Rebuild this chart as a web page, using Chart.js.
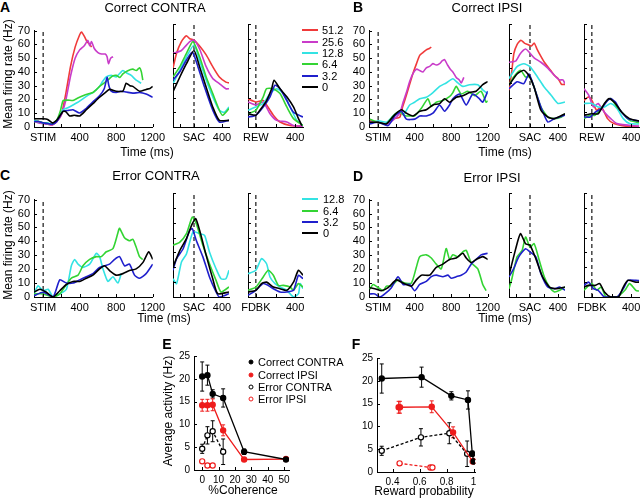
<!DOCTYPE html>
<html>
<head>
<meta charset="utf-8">
<script src="https://cdn.jsdelivr.net/npm/chart.js@4.4.1/dist/chart.umd.min.js"></script>
<style>
  body { margin: 0; background: #fff; width: 640px; height: 498px; position: relative; overflow: hidden;
         font-family: "Liberation Sans", Arial, sans-serif; color: #000; }
  canvas { position: absolute; }
  .t { position: absolute; white-space: nowrap; line-height: 1; transform: translate(-50%, -50%); }
  .l { position: absolute; white-space: nowrap; line-height: 1; transform: translateY(-50%); font-size: 11px; }
  .sw { position: absolute; height: 0; border-top: 2px solid; width: 16px; }
  .dot { position: absolute; width: 5px; height: 5px; border-radius: 50%; box-sizing: border-box; transform: translate(-50%, -50%); }
</style>
</head>
<body>
<script>
// ---- data: time courses, [ms, Hz] pairs ----
const cohLabels = ["51.2", "25.6", "12.8", "6.4", "3.2", "0"];
const traceColors = ["#f03a3a", "#c93cc9", "#33e3e3", "#33d433", "#1f1fcc", "#000000"];

// A  Correct CONTRA
const aStim51 = [[-100,5],[-50,4],[0,3],[50,2],[100,1.5],[150,4],[200,9],[250,25],[300,44],[350,58],[400,67],[420,69],[450,66],[480,62],[510,60],[530,58]];
const aStim25 = [[-100,4],[-50,3],[0,2.5],[50,2],[100,1.5],[150,4],[200,9],[250,20],[300,37],[350,50],[400,56],[450,59],[490,63],[510,59],[530,62],[560,57],[600,54],[640,53],[680,53],[700,51],[715,46],[740,50],[765,51]];
const aStim12 = [[-100,5],[-50,4],[0,3],[50,3],[100,2],[150,5],[218,12.5],[270,14],[327,16],[380,18],[436,20.5],[490,23],[545,25],[580,27],[618,29.5],[650,33],[691,36.4],[745,37.5],[800,36.4],[840,39],[873,41],[920,39],[964,37.5],[1018,34],[1073,31.8]];
const aStim6 = [[-100,4],[-50,4],[0,3],[50,2.5],[100,2],[150,5],[190,12],[218,19],[270,19.5],[327,19.3],[380,21],[436,22.7],[490,24],[545,25],[580,27],[618,29.5],[670,32],[727,35.2],[760,37],[800,37.5],[840,36],[873,38.6],[927,40.9],[982,42],[1020,41],[1055,43],[1075,40],[1091,34]];
const aStim3 = [[-100,4],[-50,4],[0,3],[50,2.5],[100,2],[150,4],[218,11.4],[270,12],[327,12.5],[400,10.2],[473,13.6],[545,18.2],[618,22.7],[670,28],[700,36],[720,30],[745,26],[800,25],[850,26],[909,25.4],[982,24.6],[1055,25],[1127,23.9],[1200,21.6]];
const aStim0 = [[-100,6],[-50,6],[0,6],[50,5.5],[100,3],[150,5],[218,11.4],[250,11],[291,8],[340,8.5],[400,8],[473,12.5],[545,17],[618,21.6],[680,25],[727,27.3],[800,26],[873,26],[909,31.8],[950,30],[982,29.5],[1055,26],[1127,27.3],[1170,28],[1200,29.5]];

const aSac51 = [[-300,40],[-250,50],[-180,58],[-110,62],[-60,60],[0,59],[80,55],[174,49],[268,41],[362,34],[456,30.5],[500,30]];
const aSac25 = [[-300,50],[-180,52],[-61,58],[0,59],[80,53],[174,41],[268,33],[362,29.5],[456,26],[500,26]];
const aSac12 = [[-300,29.5],[-202,38.6],[-108,47.7],[0,55.7],[80,45],[174,32],[268,20.5],[362,11.4],[433,10],[500,13.6]];
const aSac6 = [[-300,34],[-202,41],[-108,50],[-14,58],[80,47.7],[174,34],[268,22.7],[362,11.4],[409,8],[500,12.5]];
const aSac3 = [[-300,32],[-202,37.5],[-108,45.5],[-24,51],[56,41],[151,27],[268,11.4],[362,3.4],[500,4.5]];
const aSac0 = [[-300,24],[-202,34],[-108,43],[0,52],[80,41],[174,27],[268,13.6],[362,4.5],[500,4.5]];

const aRew51 = [[-80,19],[0,17],[75,18],[109,15],[178,8],[246,3.4],[349,1],[480,0.5]];
const aRew25 = [[-80,17],[0,15],[75,17],[144,9],[212,4.5],[315,3.4],[383,1],[480,0.5]];
const aRew12 = [[-80,11.4],[0,13.6],[75,16],[144,22.7],[212,26],[280,22.7],[349,13.6],[417,4.5],[480,1]];
const aRew6 = [[-80,9],[0,11.4],[75,20.5],[109,26],[178,26],[246,22.7],[315,13.6],[383,5.7],[480,1]];
const aRew3 = [[-80,6.8],[0,8],[75,13.6],[144,20.5],[195,28.4],[246,26],[315,18],[383,10],[480,6.8]];
const aRew0 = [[-80,9],[0,8],[41,11.4],[109,18],[161,26],[185,31.8],[246,26],[315,20.5],[383,13.6],[434,5.7],[468,1]];

// B  Correct IPSI
const bStim51 = [[-91,4.5],[0,3.4],[91,2.3],[164,6],[236,7],[270,15],[309,23],[345,31],[382,39],[420,46],[455,52],[490,54],[527,56],[560,57],[582,58]];
const bStim25 = [[-91,3.4],[0,3.4],[91,2],[164,5],[236,10],[273,18],[309,25],[345,33],[382,39],[420,42],[455,41],[491,40],[527,43],[564,44],[600,46],[636,45],[673,46],[700,48],[727,49],[760,45],[790,42],[818,40],[855,36],[890,34],[910,32],[938,36]];
const bStim12 = [[-91,2.3],[0,4.5],[91,3.4],[164,8],[236,11.4],[273,9],[309,12],[345,16],[400,18],[455,20.5],[527,21.6],[600,25],[673,29.5],[745,32],[818,35],[873,32],[927,29.5],[1000,30.7],[1091,30.7],[1145,27],[1200,24]];
const bStim6 = [[-91,5.7],[0,3.4],[91,2.3],[164,8],[236,11.4],[273,9],[309,8],[364,8],[400,8],[473,13.6],[545,20.5],[582,15],[636,18],[709,19.3],[780,22],[818,25],[855,29.5],[909,24],[982,26],[1055,22.7],[1127,26],[1182,18],[1200,19]];
const bStim3 = [[-91,2.3],[0,3.4],[109,1],[182,8],[255,11.4],[309,5.7],[400,5.7],[455,8],[527,8],[600,10],[673,16],[727,11.4],[782,16],[818,20.5],[891,24],[964,16],[1036,24],[1109,20.5],[1145,18],[1200,26]];
const bStim0 = [[-91,3.4],[0,3.4],[91,2.3],[182,9],[255,12.5],[309,10],[382,8],[455,11.4],[527,12.5],[600,16],[673,17],[727,20.5],[782,18],[855,21.6],[927,22.7],[1000,25],[1073,26],[1145,30.7],[1200,33]];

const bSac51 = [[-300,25],[-260,38],[-230,50],[-185,56],[-130,59],[-80,57],[-30,56],[20,55],[60,57],[100,53],[156,48],[205,44],[254,41],[302,38],[350,35],[400,33],[450,29],[500,29]];
const bSac25 = [[-300,44],[-200,45],[-137,50],[-63,53],[-15,51],[59,47],[156,44],[254,40],[351,35],[420,32],[470,32],[500,29.5]];
const bSac12 = [[-300,33],[-185,41],[-88,43],[0,41],[107,34],[205,27],[302,21.6],[400,16],[500,17]];
const bSac6 = [[-300,28.4],[-234,34],[-137,38.6],[-63,34],[0,34],[59,27],[156,13.6],[254,6.8],[351,5.7],[449,6.8],[500,9]];
const bSac3 = [[-300,26],[-185,30.7],[-88,29.5],[-15,36],[59,27],[156,13.6],[254,3.4],[351,5.7],[500,8]];
const bSac0 = [[-300,28.4],[-185,36],[-88,38.6],[-15,35],[59,27],[156,11.4],[254,6.8],[351,5.7],[500,9]];

const bRew51 = [[-80,18],[-32,20.5],[0,18],[48,11.4],[96,13.6],[160,5.7],[224,2.3],[352,0.5],[480,0.5]];
const bRew25 = [[-80,26],[-32,21.6],[16,13.6],[64,16],[128,10],[192,5.7],[256,2.3],[480,0.5]];
const bRew12 = [[-80,16],[0,16],[64,13.6],[128,13.6],[192,16],[256,12.5],[320,5.7],[384,2.3],[480,2]];
const bRew6 = [[-80,5.7],[-16,8],[32,8],[80,11.4],[144,17],[192,19.3],[256,13.6],[320,9],[384,4.5],[480,3]];
const bRew3 = [[-80,6.8],[-16,6.8],[32,10],[96,12.5],[160,18],[192,19.3],[240,17],[288,11.4],[368,5.7],[480,4]];
const bRew0 = [[-80,8],[0,9],[64,9],[128,16],[176,19.3],[240,16],[304,10],[384,5.7],[480,4]];

// C  Error CONTRA
const cStim12 = [[-100,2.2],[-55,8],[0,4.5],[55,5.6],[109,0],[182,2.2],[255,5.6],[309,22.4],[345,27],[382,23.6],[436,21.3],[509,23.6],[582,31.4],[618,29],[655,20.2],[709,11.2],[764,14.6],[818,10],[855,16.8]];
const cStim6 = [[-100,2.2],[0,2.2],[109,0],[182,2.2],[255,9],[309,13.5],[382,15.7],[436,22.4],[509,27],[582,29],[636,29],[691,32.5],[764,34.8],[818,46],[836,49.4],[891,42.6],[945,40.4],[982,41.5],[1018,35.9],[1055,29],[1091,27]];
const cStim3 = [[-100,1],[0,3.4],[109,0],[182,12.3],[255,10],[327,10],[400,12.3],[473,14.6],[545,16.8],[618,21.3],[673,22.4],[727,23.6],[782,27],[836,29],[891,22.4],[945,23.6],[1000,15.7],[1055,13.5],[1127,16.8],[1200,23.6]];
const cStim0 = [[-100,3.4],[-36,5.6],[36,3.4],[109,0],[182,4.5],[255,9],[327,11.2],[400,11.2],[473,13.5],[545,15.7],[618,20.2],[673,22.4],[727,19],[800,15.7],[873,16.8],[945,19],[1018,20.2],[1091,24.7],[1156,32.5],[1200,27]];

const cSac12 = [[-300,12.3],[-249,9],[-179,23.6],[-108,29],[-14,43.8],[80,42.6],[151,41.5],[221,30.3],[315,19],[386,12.3],[456,12.3],[500,18]];
const cSac6 = [[-300,34.8],[-202,37],[-108,42.6],[-24,53.8],[33,49.4],[127,34.8],[221,22.4],[315,11.2],[386,3.4],[500,6.7]];
const cSac3 = [[-300,18],[-249,25.8],[-155,32.5],[-61,44.9],[-24,46],[33,38],[127,27],[221,13.5],[315,3.4],[362,0],[500,2.2]];
const cSac0 = [[-300,20.2],[-202,31.4],[-108,39.3],[-24,49.4],[24,52.7],[80,44.9],[174,28],[268,12.3],[339,2.2],[500,3.4]];

const cFb12 = [[-80,15.7],[0,18],[58,25.8],[109,22.4],[144,13.5],[195,9],[246,6.7],[315,4.5],[383,0],[434,2.2],[451,9],[480,5.6]];
const cFb6 = [[-80,4.5],[0,6.7],[75,13.5],[126,18],[178,14.6],[229,7.8],[280,7.8],[349,6.7],[383,4.5],[434,9],[480,6.7]];
const cFb3 = [[-80,1.1],[0,4.5],[75,9],[126,7.8],[178,5.6],[246,3.4],[315,3.4],[383,4.5],[434,14.6],[480,12.3]];
const cFb0 = [[-80,3.4],[0,4.5],[58,9],[109,10],[178,6.7],[246,5.6],[315,4.5],[383,10],[434,18],[480,14.6]];

// D  Error IPSI
const dStim6 = [[-91,5.6],[-55,9],[0,6.7],[55,4.5],[91,7.8],[145,7.8],[218,12.3],[291,10],[364,10],[418,21.3],[455,29],[527,30.3],[582,28],[636,23.6],[691,20.2],[745,34.8],[782,27],[818,30.3],[873,29],[927,32.5],[964,33.6],[1018,24.7],[1091,20.2],[1145,9],[1182,4.5]];
const dStim3 = [[-91,2.2],[-36,2.2],[18,0],[73,2.2],[145,6.7],[218,14.6],[273,9],[345,9],[400,4.5],[455,9],[527,11.2],[582,14.6],[636,15.7],[709,14.6],[764,15.7],[800,13.5],[855,14.6],[909,15.7],[964,18],[1018,23.6],[1073,27],[1127,30.3],[1200,31.4]];
const dStim0 = [[-91,6.7],[-18,5.6],[36,4.5],[109,6.7],[200,12.3],[273,10],[364,7.8],[418,12.3],[473,15.7],[564,15.7],[636,21.3],[709,23.6],[782,27],[855,28],[927,31.4],[964,28],[1018,24.7],[1073,27],[1145,29],[1200,27]];

const dSac6 = [[-300,5.6],[-259,12.3],[-185,27],[-112,31.4],[-63,40.4],[0,33.6],[59,35.9],[132,24.7],[205,13.5],[278,6.7],[351,3.4],[424,4.5],[500,6.7]];
const dSac3 = [[-300,13.5],[-234,19],[-161,27],[-63,32.5],[0,30.3],[83,27],[156,15.7],[254,6.7],[351,5.6],[424,6.7],[500,4.5]];
const dSac0 = [[-300,14.6],[-210,31.4],[-137,42.6],[-63,35.9],[0,34.8],[83,25.8],[180,13.5],[278,6.7],[376,5.6],[500,6.7]];

const dFb6 = [[-80,4.5],[-48,6.7],[0,9],[48,4.5],[96,6.7],[144,0],[256,0],[336,4.5],[384,9],[448,4.5],[480,4]];
const dFb3 = [[-80,7.8],[-32,10],[16,5.6],[64,4.5],[128,0],[256,0],[320,5.6],[368,11.2],[448,11.2],[480,11]];
const dFb0 = [[-80,6.7],[-32,7.8],[32,7.8],[80,9],[128,3.4],[192,0],[272,0],[320,6.7],[368,11.2],[448,10],[480,10]];

// axis ticks
const rateTicks = [0, 10, 20, 30, 40, 50, 60, 70];
const stimTicks = [0, 200, 400, 600, 800, 1000, 1200];
const stimTickText = ["STIM", "", "400", "", "800", "", "1200"];
const sacTicks = [-200, 0, 200, 400];
const sacTickText = ["", "SAC", "", "400"];
const rewTicks = [0, 200, 400];
const rewTickText = ["REW", "", "400"];
const fbTickText = ["FDBK", "", "400"];

// ---- data: summary panels E and F ----
const coherence = [0, 3.2, 6.4, 12.8, 25.6, 51.2];
const corrContra = [20.5, 20.8, 16.7, 15.8, 4.0, 2.3];
const corrContraErr = [3.2, 2.2, 0.9, 2.0, 0.6, 0.4];
const corrIpsi = [14.2, 14.2, 14.3, 8.7, 2.3, 2.4];
const corrIpsiErr = [1.3, 1.3, 1.3, 1.2, 0.3, 0.4];
const errContra = [4.65, 7.6, 8.5, 4.0];
const errContraErr = [1.0, 1.9, 2.3, 2.8];
const errIpsi = [1.9, 1.0, 1.0];
const errIpsiErr = [0.3, 0.3, 0.3];

const rewCorrContra = [0.32, 0.615, 0.835, 0.958, 0.99, 1.0];
const rewCorrIpsi = [0.445, 0.455, 0.69, 0.848, 0.993, 1.0];
const rewErrContra = [0.32, 0.61, 0.82, 0.952];
const rewErrIpsi = [0.452, 0.68, 0.695];

const activityTicks = [0, 5, 10, 15, 20, 25];
const cohTicks = [0, 10, 20, 30, 40, 50];
const probTicks = [0.4, 0.6, 0.8, 1];

// ---- drawing ----
Chart.defaults.font.family = "'Liberation Sans', Arial, sans-serif";
Chart.defaults.color = "#000";

const PAD_L = 30, PAD_B = 24, PAD_T = 4, PAD_R = 16;

function addCanvas(box) {
  const c = document.createElement("canvas");
  const w = box.right - box.left + PAD_L + PAD_R;
  const h = box.bottom - box.top + PAD_T + PAD_B;
  c.width = w; c.height = h;
  c.style.left = (box.left - PAD_L) + "px";
  c.style.top = (box.top - PAD_T) + "px";
  c.style.width = w + "px";
  c.style.height = h + "px";
  document.body.appendChild(c);
  return c.getContext("2d");
}

// MATLAB style ticks pointing into the plot
const inTicks = {
  id: "inTicks",
  afterDraw(chart) {
    const { ctx, chartArea: a } = chart;
    const xs = chart.scales.x, ys = chart.scales.y;
    ctx.save();
    ctx.strokeStyle = "#000";
    ctx.lineWidth = 1;
    ctx.beginPath();
    xs.ticks.forEach((t) => {
      const p = Math.round(xs.getPixelForValue(t.value)) + 0.5;
      ctx.moveTo(p, a.bottom); ctx.lineTo(p, a.bottom - 3);
    });
    ys.ticks.forEach((t) => {
      const p = Math.round(ys.getPixelForValue(t.value)) + 0.5;
      ctx.moveTo(a.left, p); ctx.lineTo(a.left + 3, p);
    });
    ctx.stroke();
    ctx.restore();
  },
};

const errBars = {
  id: "errBars",
  beforeDatasetsDraw(chart) {
    const ys = chart.scales.y, ctx = chart.ctx;
    chart.data.datasets.forEach((ds, i) => {
      if (!ds.errs) return;
      const meta = chart.getDatasetMeta(i);
      ctx.save();
      ctx.strokeStyle = ds.borderColor;
      ctx.lineWidth = 1;
      ctx.beginPath();
      meta.data.forEach((pt, j) => {
        const v = ds.data[j][1], e = ds.errs[j];
        const top = ys.getPixelForValue(v + e), bot = ys.getPixelForValue(v - e);
        ctx.moveTo(pt.x, top); ctx.lineTo(pt.x, bot);
        ctx.moveTo(pt.x - 2, top); ctx.lineTo(pt.x + 2, top);
        ctx.moveTo(pt.x - 2, bot); ctx.lineTo(pt.x + 2, bot);
      });
      ctx.stroke();
      ctx.restore();
    });
  },
};

function fixedTicks(vals) {
  return (s) => { s.ticks = vals.map((v) => ({ value: v })); };
}

const noGrid = { display: false, drawTicks: false, tickLength: 0 };
const axisLine = { display: true, color: "#000", width: 1 };

function tracePanel(box, series, colors, xRange, xTicks, xText, showY) {
  const ctx = addCanvas(box);
  const sets = series.map((d, i) => ({
    data: d, borderColor: colors[i], borderWidth: 1.6, pointRadius: 0, tension: 0.2, fill: false,
  })).reverse();
  sets.push({ data: [[0, 0], [0, 70]], borderColor: "#000", borderWidth: 1.1, borderDash: [4, 3], pointRadius: 0 });
  new Chart(ctx, {
    type: "line",
    data: { datasets: sets },
    options: {
      responsive: false, animation: false, events: [],
      layout: { padding: { top: PAD_T, right: PAD_R, left: 0, bottom: 0 } },
      plugins: { legend: { display: false }, tooltip: { enabled: false } },
      scales: {
        x: {
          type: "linear", min: xRange[0], max: xRange[1],
          afterBuildTicks: fixedTicks(xTicks),
          afterFit: (s) => { s.height = PAD_B; },
          grid: noGrid, border: axisLine,
          ticks: { autoSkip: false, maxRotation: 0, padding: 4, font: { size: 11 }, callback: (v, i) => xText[i] },
        },
        y: {
          min: 0, max: 70,
          afterBuildTicks: fixedTicks(rateTicks),
          afterFit: (s) => { s.width = PAD_L; },
          grid: noGrid, border: axisLine,
          ticks: { display: showY, autoSkip: false, padding: 4, font: { size: 11 } },
        },
      },
    },
    plugins: [inTicks],
  });
}

const row1 = { top: 24, bottom: 127 };
const row2 = { top: 193, bottom: 297 };
const stimL = { left: 34, right: 153 }, sacL = { left: 173, right: 229 }, rewL = { left: 248, right: 303 };
const stimR = { left: 369, right: 488 }, sacR = { left: 509, right: 565 }, rewR = { left: 584, right: 639 };
const stimRange = [-100, 1200], sacRange = [-300, 500], rewRange = [-80, 480];
const six = traceColors, four = traceColors.slice(2), three = traceColors.slice(3);

tracePanel({ ...stimL, ...row1 }, [aStim51, aStim25, aStim12, aStim6, aStim3, aStim0], six, stimRange, stimTicks, stimTickText, true);
tracePanel({ ...sacL, ...row1 }, [aSac51, aSac25, aSac12, aSac6, aSac3, aSac0], six, sacRange, sacTicks, sacTickText, false);
tracePanel({ ...rewL, ...row1 }, [aRew51, aRew25, aRew12, aRew6, aRew3, aRew0], six, rewRange, rewTicks, rewTickText, false);
tracePanel({ ...stimR, ...row1 }, [bStim51, bStim25, bStim12, bStim6, bStim3, bStim0], six, stimRange, stimTicks, stimTickText, true);
tracePanel({ ...sacR, ...row1 }, [bSac51, bSac25, bSac12, bSac6, bSac3, bSac0], six, sacRange, sacTicks, sacTickText, false);
tracePanel({ ...rewR, ...row1 }, [bRew51, bRew25, bRew12, bRew6, bRew3, bRew0], six, rewRange, rewTicks, rewTickText, false);

tracePanel({ ...stimL, ...row2 }, [cStim12, cStim6, cStim3, cStim0], four, stimRange, stimTicks, stimTickText, true);
tracePanel({ ...sacL, ...row2 }, [cSac12, cSac6, cSac3, cSac0], four, sacRange, sacTicks, sacTickText, false);
tracePanel({ ...rewL, ...row2 }, [cFb12, cFb6, cFb3, cFb0], four, rewRange, rewTicks, fbTickText, false);
tracePanel({ ...stimR, ...row2 }, [dStim6, dStim3, dStim0], three, stimRange, stimTicks, stimTickText, true);
tracePanel({ ...sacR, ...row2 }, [dSac6, dSac3, dSac0], three, sacRange, sacTicks, sacTickText, false);
tracePanel({ ...rewR, ...row2 }, [dFb6, dFb3, dFb0], three, rewRange, rewTicks, fbTickText, false);

const RED = "#ee1c1c";

function summarySet(xs, ys, errs, color, open) {
  return {
    data: xs.map((x, i) => [x, ys[i]]), errs,
    borderColor: color, backgroundColor: open ? "#fff" : color,
    pointBackgroundColor: open ? "#fff" : color, pointBorderColor: color,
    pointRadius: 2.6, pointBorderWidth: 1.2, borderWidth: 1.3,
    borderDash: open ? [3, 2] : [], showLine: true, tension: 0,
  };
}

function summaryPanel(box, sets, xRange, xTicks, xText) {
  const ctx = addCanvas(box);
  new Chart(ctx, {
    type: "scatter",
    data: { datasets: sets },
    options: {
      responsive: false, animation: false, events: [],
      layout: { padding: { top: PAD_T, right: PAD_R, left: 0, bottom: 0 } },
      plugins: { legend: { display: false }, tooltip: { enabled: false } },
      scales: {
        x: {
          type: "linear", min: xRange[0], max: xRange[1],
          afterBuildTicks: fixedTicks(xTicks),
          afterFit: (s) => { s.height = PAD_B; },
          grid: noGrid, border: axisLine,
          ticks: { autoSkip: false, maxRotation: 0, padding: 4, font: { size: 10 }, callback: (v, i) => xText[i] },
        },
        y: {
          min: 0, max: 25,
          afterBuildTicks: fixedTicks(activityTicks),
          afterFit: (s) => { s.width = PAD_L; },
          grid: noGrid, border: axisLine,
          ticks: { autoSkip: false, padding: 4, font: { size: 10 } },
        },
      },
    },
    plugins: [errBars, inTicks],
  });
}

summaryPanel({ left: 194, right: 289, top: 350, bottom: 470 }, [
  summarySet(coherence, corrContra, corrContraErr, "#000", false),
  summarySet(coherence, corrIpsi, corrIpsiErr, RED, false),
  summarySet(coherence.slice(0, 4), errContra, errContraErr, "#000", true),
  summarySet(coherence.slice(0, 3), errIpsi, errIpsiErr, RED, true),
], [-5, 53], cohTicks, cohTicks.map(String));

summaryPanel({ left: 377, right: 475, top: 352, bottom: 472 }, [
  summarySet(rewCorrContra, corrContra, corrContraErr, "#000", false),
  summarySet(rewCorrIpsi, corrIpsi, corrIpsiErr, RED, false),
  summarySet(rewErrContra, errContra, errContraErr, "#000", true),
  summarySet(rewErrIpsi, errIpsi, errIpsiErr, RED, true),
], [0.285, 1.01], probTicks, probTicks.map(String));

// ---- text ----
function text(str, x, y, size, extra) {
  const d = document.createElement("div");
  d.className = "t";
  d.textContent = str;
  d.style.left = x + "px";
  d.style.top = y + "px";
  d.style.fontSize = size + "px";
  if (extra) Object.assign(d.style, extra);
  document.body.appendChild(d);
}
const bold = { fontWeight: "bold" };
const vert = { transform: "translate(-50%, -50%) rotate(-90deg)" };

text("A", 5, 7, 14, bold); text("Correct CONTRA", 155, 7, 13);
text("B", 358, 7, 14, bold); text("Correct IPSI", 487, 7, 13);
text("C", 5, 175, 14, bold); text("Error CONTRA", 156, 175, 13);
text("D", 358, 176, 14, bold); text("Error IPSI", 492, 177, 13);
text("Time (ms)", 147, 152, 12); text("Time (ms)", 505, 152, 12);
text("Time (ms)", 164, 318, 12); text("Time (ms)", 505, 318, 12);
text("Mean firing rate (Hz)", 8, 74, 12, vert);
text("Mean firing rate (Hz)", 8, 245, 12, vert);
text("E", 167, 344, 14, bold); text("F", 356, 344, 14, bold);
text("Average activity (Hz)", 168, 411, 12, vert);
text("%Coherence", 243, 490, 12);
text("Reward probability", 424, 491, 12);

function swatch(x, y, color) {
  const s = document.createElement("div");
  s.className = "sw";
  s.style.left = x + "px"; s.style.top = (y - 1) + "px"; s.style.borderColor = color;
  document.body.appendChild(s);
}
function label(str, x, y) {
  const d = document.createElement("div");
  d.className = "l"; d.textContent = str;
  d.style.left = x + "px"; d.style.top = y + "px";
  document.body.appendChild(d);
}
const legendA = [30, 41.7, 52.7, 64.3, 76, 87.3];
cohLabels.forEach((c, i) => { swatch(302, legendA[i], traceColors[i]); label(c, 322, legendA[i]); });
const legendC = [199.3, 210.7, 222.3, 233.3];
cohLabels.slice(2).forEach((c, i) => { swatch(302, legendC[i], traceColors[i + 2]); label(c, 323, legendC[i]); });

const legendE = ["Correct CONTRA", "Correct IPSI", "Error CONTRA", "Error IPSI"];
const legendEy = [362.3, 374.7, 387, 399.3];
legendE.forEach((name, i) => {
  const color = i % 2 ? RED : "#000";
  const d = document.createElement("div");
  d.className = "dot";
  d.style.left = "251px"; d.style.top = legendEy[i] + "px";
  d.style.background = i < 2 ? color : "#fff";
  d.style.border = "1.3px solid " + color;
  document.body.appendChild(d);
  label(name, 258, legendEy[i]);
});
</script>
</body>
</html>
